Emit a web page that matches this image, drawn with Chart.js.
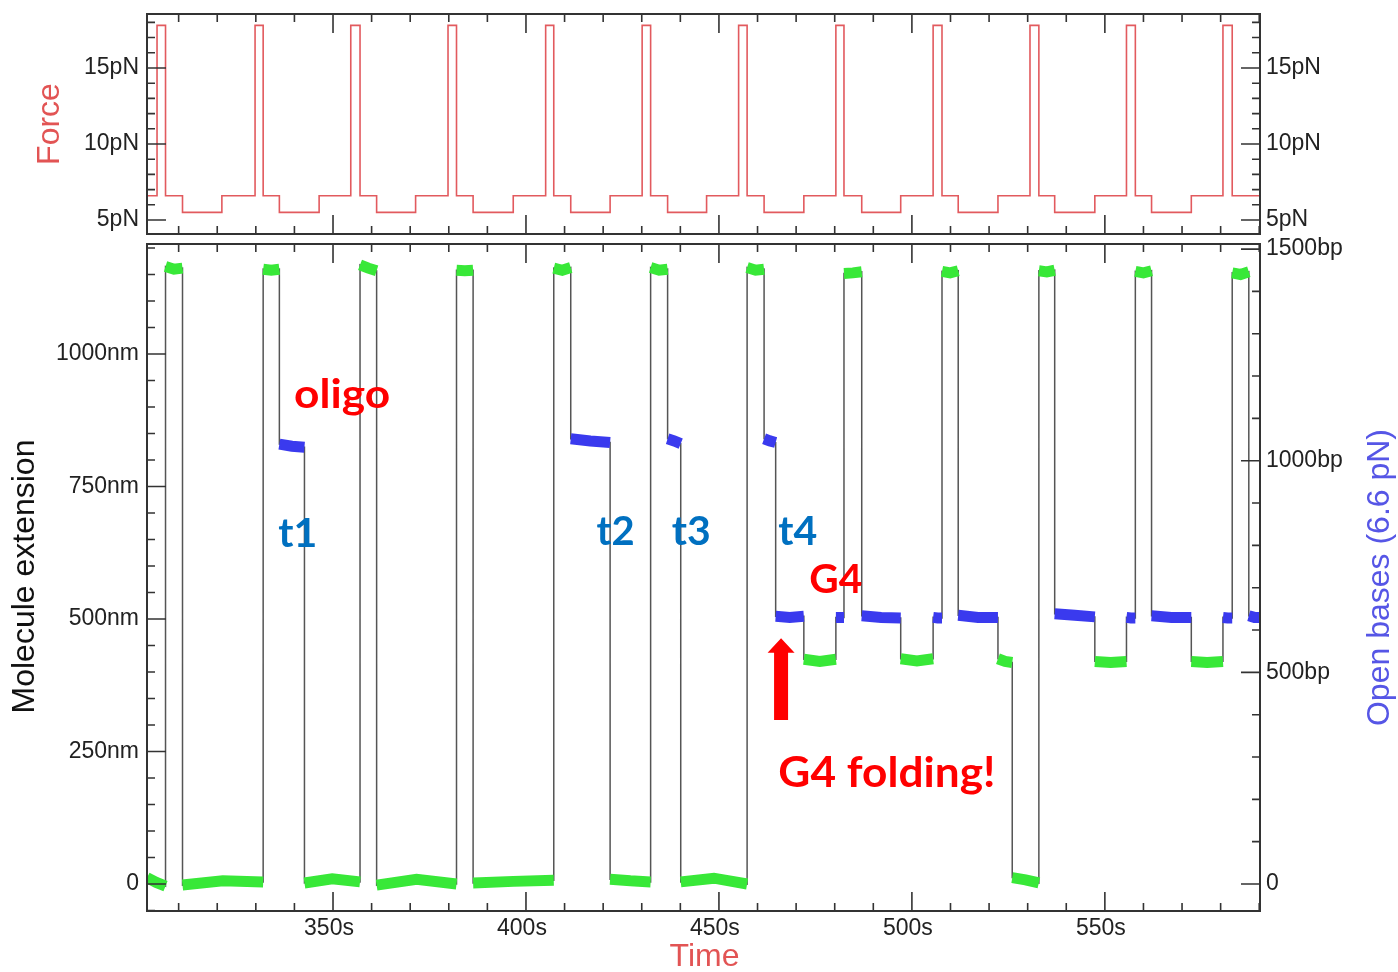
<!DOCTYPE html>
<html>
<head>
<meta charset="utf-8">
<script src="https://cdn.jsdelivr.net/npm/chart.js@4.4.1/dist/chart.umd.min.js"></script>
<style>
  html, body { margin: 0; padding: 0; background: #fff; }
  #wrap { position: relative; width: 1398px; height: 972px; overflow: hidden; }
  #wrap canvas { position: absolute; left: 0; }
  #force { top: -30px; }
  #ext { top: 200px; }
</style>
</head>
<body>
<div id="wrap">
  <canvas id="ext" width="1398" height="772"></canvas>
  <canvas id="force" width="1398" height="300"></canvas>
</div>
<script>
// time axis (s)
const timeMin = 301.8;
const timeMax = 590.2;
const timeTicks = [350, 400, 450, 500, 550];

// force protocol: time of each switch (s) and the force applied from then on (pN)
const forceTimes = [301.8, 304.4, 306.6, 311.0, 321.2, 329.8, 331.9, 336.1, 346.4, 354.6, 357.0, 361.3, 371.4,
  379.8, 382.0, 386.3, 396.7, 405.1, 407.2, 411.6, 421.8, 430.1, 432.3, 436.7, 446.8, 455.1, 457.3, 461.7, 472.0,
  480.3, 482.4, 487.0, 497.1, 505.5, 507.8, 512.0, 522.3, 530.6, 532.9, 537.0, 547.4, 555.6, 557.9, 562.1, 572.4,
  580.6, 583.0, 587.3, 590.2];
const forceValues = [5.5, 6.6, 17.8, 6.6, 5.5, 6.6, 17.8, 6.6, 5.5, 6.6, 17.8, 6.6, 5.5,
  6.6, 17.8, 6.6, 5.5, 6.6, 17.8, 6.6, 5.5, 6.6, 17.8, 6.6, 5.5, 6.6, 17.8, 6.6, 5.5,
  6.6, 17.8, 6.6, 5.5, 6.6, 17.8, 6.6, 5.5, 6.6, 17.8, 6.6, 5.5, 6.6, 17.8, 6.6, 5.5,
  6.6, 17.8, 6.6, 6.6];
const forceMin = 4.08;
const forceMax = 18.55;
const forceTicks = [5, 10, 15];

// molecule extension: plateau boundaries (s), level read at start / middle / end (nm), and state
const extTimes = [301.8, 306.6, 311.0, 331.9, 336.1, 342.6, 357.0, 361.3, 382.0, 386.3, 407.2, 411.6, 421.8,
  432.3, 436.7, 440.1, 457.3, 461.7, 464.7, 472.0, 480.3, 482.4, 487.0, 497.1, 505.5, 507.8, 512.0, 522.3,
  526.0, 532.9, 537.0, 547.4, 555.6, 557.9, 562.1, 572.4, 580.6, 583.0, 587.3, 590.2];
const extLevels = [
  [12, 3, -4], [1165, 1160, 1162], [-2, 6, 4], [1160, 1158, 1160], [830, 826, 824], [2, 10, 4],
  [1168, 1162, 1157], [-2, 9, 0], [1158, 1157, 1158], [2, 5, 7], [1162, 1158, 1163], [840, 836, 833],
  [9, 6, 4], [1163, 1158, 1160], [840, 836, 831], [4, 11, 0], [1163, 1158, 1160], [840, 836, 833],
  [505, 503, 505], [424, 420, 424], [503, 503, 503], [1152, 1153, 1155], [506, 503, 502], [425, 421, 425],
  [503, 502, 502], [1156, 1153, 1157], [507, 503, 503], [425, 420, 418], [12, 8, 2], [1157, 1155, 1158],
  [510, 507, 504], [420, 418, 420], [503, 502, 502], [1156, 1153, 1157], [506, 503, 503], [420, 418, 420],
  [503, 502, 502], [1153, 1150, 1155], [506, 503, 503]];
const extState = ['g', 'g', 'g', 'g', 'b', 'g', 'g', 'g', 'g', 'g', 'g', 'b', 'g', 'g', 'b', 'g', 'g', 'b',
  'b', 'g', 'b', 'g', 'b', 'g', 'b', 'g', 'b', 'g', 'g', 'g', 'b', 'g', 'b', 'g', 'b', 'g', 'b', 'g', 'b'];
const nmMin = -50.9;
const nmMax = 1207.5;
const nmTicks = [0, 250, 500, 750, 1000];
const bpMin = -63.8;
const bpMax = 1512;
const bpTicks = [0, 500, 1000, 1500];

// text drawn on the extension panel, placed in data coordinates (left edge, baseline)
const notes = [
  { text: 'oligo', t: 339.9, nm: 897.5, w: 96, size: 41, color: '#ff0000' },
  { text: 't1', t: 335.8, nm: 636.4, w: 39, size: 40, color: '#0070c0' },
  { text: 't2', t: 418.3, nm: 639.6, w: 38, size: 40, color: '#0070c0' },
  { text: 't3', t: 437.8, nm: 639.6, w: 39, size: 40, color: '#0070c0' },
  { text: 't4', t: 465.4, nm: 639.6, w: 39, size: 40, color: '#0070c0' },
  { text: 'G4', t: 473.4, nm: 549.6, w: 53, size: 40, color: '#ff0000' },
  { text: 'G4 folding!', t: 465.4, nm: 183.6, w: 217, size: 42, color: '#ff0000' },
];

const tickFont = { family: '"Liberation Sans", Arial, sans-serif', size: 23 };
const titleFont = '32px "Liberation Sans", Arial, sans-serif';

const forceData = forceTimes.map((t, i) => ({ x: t, y: forceValues[i] }));

const trace = [];
const green = [];
const blue = [];
extLevels.forEach((lv, i) => {
  const t0 = extTimes[i];
  const t1 = extTimes[i + 1];
  const pts = [{ x: t0, y: lv[0] }, { x: (t0 + t1) / 2, y: lv[1] }, { x: t1, y: lv[2] }];
  trace.push(...pts);
  const target = extState[i] === 'g' ? green : blue;
  target.push(...pts, { x: t1, y: null });
});

// frame box plus inward major/minor ticks like the original plotting program
const frameTicks = {
  id: 'frameTicks',
  afterDatasetsDraw(chart, args, opts) {
    const { ctx, chartArea: a, scales } = chart;
    const marks = (scale, minor, major, draw) => {
      const first = Math.ceil(scale.min / minor);
      const last = Math.floor(scale.max / minor);
      for (let k = first; k <= last; k++) {
        const v = k * minor;
        const isMajor = Math.abs(v / major - Math.round(v / major)) < 1e-6;
        draw(scale.getPixelForValue(v), isMajor ? 19 : 8);
      }
    };
    ctx.save();
    ctx.strokeStyle = '#333';
    ctx.lineWidth = 1.6;
    ctx.beginPath();
    marks(scales.x, 10, 50, (p, len) => {
      ctx.moveTo(p, a.top); ctx.lineTo(p, a.top + len);
      ctx.moveTo(p, a.bottom); ctx.lineTo(p, a.bottom - len);
    });
    const [lId, lMinor, lMajor] = opts.left;
    marks(scales[lId], lMinor, lMajor, (p, len) => { ctx.moveTo(a.left, p); ctx.lineTo(a.left + len, p); });
    const [rId, rMinor, rMajor] = opts.right;
    marks(scales[rId], rMinor, rMajor, (p, len) => { ctx.moveTo(a.right, p); ctx.lineTo(a.right - len, p); });
    ctx.stroke();
    ctx.lineWidth = 2;
    ctx.strokeRect(a.left, a.top, a.right - a.left, a.bottom - a.top);
    ctx.restore();
  }
};

function rotatedText(ctx, text, x, y, color) {
  ctx.save();
  ctx.translate(x, y);
  ctx.rotate(-Math.PI / 2);
  ctx.font = titleFont;
  ctx.fillStyle = color;
  ctx.textAlign = 'center';
  ctx.textBaseline = 'middle';
  ctx.fillText(text, 0, 0);
  ctx.restore();
}

const forceTitle = {
  id: 'forceTitle',
  afterDraw(chart) {
    const a = chart.chartArea;
    rotatedText(chart.ctx, 'Force', 50, (a.top + a.bottom) / 2, '#e25454');
  }
};

const extTexts = {
  id: 'extTexts',
  afterDraw(chart) {
    const { ctx, chartArea: a, scales } = chart;
    const mid = (a.top + a.bottom) / 2;
    rotatedText(ctx, 'Molecule extension', 25, mid - 1, '#111');
    rotatedText(ctx, 'Open bases (6.6 pN)', 1380, mid, '#5656e6');
    ctx.save();
    ctx.font = titleFont;
    ctx.fillStyle = '#e25454';
    ctx.textAlign = 'center';
    ctx.textBaseline = 'middle';
    ctx.fillText('Time', (a.left + a.right) / 2 + 1, a.bottom + 46);
    ctx.restore();

    notes.forEach(n => {
      const x = scales.x.getPixelForValue(n.t);
      const y = scales.y.getPixelForValue(n.nm);
      ctx.save();
      ctx.font = 'bold ' + n.size + 'px Lato, "Noto Sans", sans-serif';
      ctx.fillStyle = n.color;
      ctx.textAlign = 'left';
      ctx.textBaseline = 'alphabetic';
      const mw = ctx.measureText(n.text).width;
      ctx.translate(x, y);
      ctx.scale(n.w / mw, 1);
      ctx.fillText(n.text, 0, 0);
      ctx.restore();
    });

    // red arrow pointing at the first G4 plateau
    const ax = scales.x.getPixelForValue(466.1);
    const tip = scales.y.getPixelForValue(463.6);
    const base = scales.y.getPixelForValue(436.4);
    const foot = scales.y.getPixelForValue(309.4);
    ctx.save();
    ctx.fillStyle = '#ff0000';
    ctx.beginPath();
    ctx.moveTo(ax, tip);
    ctx.lineTo(ax + 13.5, base);
    ctx.lineTo(ax + 7, base);
    ctx.lineTo(ax + 7, foot);
    ctx.lineTo(ax - 7, foot);
    ctx.lineTo(ax - 7, base);
    ctx.lineTo(ax - 13.5, base);
    ctx.closePath();
    ctx.fill();
    ctx.restore();
  }
};

const hiddenGrid = { display: false, drawTicks: false };

new Chart(document.getElementById('force'), {
  type: 'line',
  data: {
    datasets: [{
      data: forceData,
      borderColor: '#e25a5e',
      borderWidth: 1.6,
      pointRadius: 0,
      stepped: 'after',
    }]
  },
  options: {
    responsive: false,
    animation: false,
    devicePixelRatio: 1,
    layout: { padding: { top: 44, bottom: 36, left: 0, right: 0 } },
    plugins: {
      legend: { display: false },
      tooltip: { enabled: false },
      frameTicks: { left: ['y', 1, 5], right: ['y2', 1, 5] },
    },
    scales: {
      x: { type: 'linear', min: timeMin, max: timeMax, display: false },
      y: {
        position: 'left', min: forceMin, max: forceMax,
        grid: hiddenGrid, border: { display: false },
        afterBuildTicks: s => { s.ticks = forceTicks.map(v => ({ value: v })); },
        afterFit: s => { s.width = 147; },
        ticks: { font: tickFont, color: '#222', padding: 8, callback: v => v + 'pN' },
      },
      y2: {
        position: 'right', min: forceMin, max: forceMax,
        grid: hiddenGrid, border: { display: false },
        afterBuildTicks: s => { s.ticks = forceTicks.map(v => ({ value: v })); },
        afterFit: s => { s.width = 138; },
        ticks: { font: tickFont, color: '#222', padding: 6, callback: v => v + 'pN' },
      },
    },
  },
  plugins: [frameTicks, forceTitle],
});

new Chart(document.getElementById('ext'), {
  type: 'line',
  data: {
    datasets: [
      {
        label: 'folded / fully open',
        data: green,
        borderColor: '#38e838',
        borderWidth: 11,
        borderCapStyle: 'butt',
        pointRadius: 0,
        spanGaps: false,
        order: 0,
      },
      {
        label: 'partially open',
        data: blue,
        borderColor: '#3a3aee',
        borderWidth: 11,
        borderCapStyle: 'butt',
        pointRadius: 0,
        spanGaps: false,
        order: 0,
      },
      {
        label: 'trace',
        data: trace,
        borderColor: '#555555',
        borderWidth: 1.5,
        pointRadius: 0,
        order: 2,
      },
    ]
  },
  options: {
    responsive: false,
    animation: false,
    devicePixelRatio: 1,
    layout: { padding: { top: 44, bottom: 0, left: 0, right: 0 } },
    plugins: {
      legend: { display: false },
      tooltip: { enabled: false },
      frameTicks: { left: ['y', 50, 250], right: ['bp', 100, 500] },
    },
    scales: {
      x: {
        type: 'linear', min: timeMin, max: timeMax,
        grid: hiddenGrid, border: { display: false },
        afterBuildTicks: s => { s.ticks = timeTicks.map(v => ({ value: v })); },
        afterFit: s => { s.height = 61; },
        ticks: { font: tickFont, color: '#222', padding: 4, labelOffset: -4, autoSkip: false, maxRotation: 0, callback: v => v + 's' },
      },
      y: {
        position: 'left', min: nmMin, max: nmMax,
        grid: hiddenGrid, border: { display: false },
        afterBuildTicks: s => { s.ticks = nmTicks.map(v => ({ value: v })); },
        afterFit: s => { s.width = 147; },
        ticks: { font: tickFont, color: '#222', padding: 8, callback: v => v === 0 ? '0' : v + 'nm' },
      },
      bp: {
        position: 'right', min: bpMin, max: bpMax,
        grid: hiddenGrid, border: { display: false },
        afterBuildTicks: s => { s.ticks = bpTicks.map(v => ({ value: v })); },
        afterFit: s => { s.width = 138; },
        ticks: { font: tickFont, color: '#222', padding: 6, callback: v => v === 0 ? '0' : v + 'bp' },
      },
    },
  },
  plugins: [frameTicks, extTexts],
});
</script>
</body>
</html>
